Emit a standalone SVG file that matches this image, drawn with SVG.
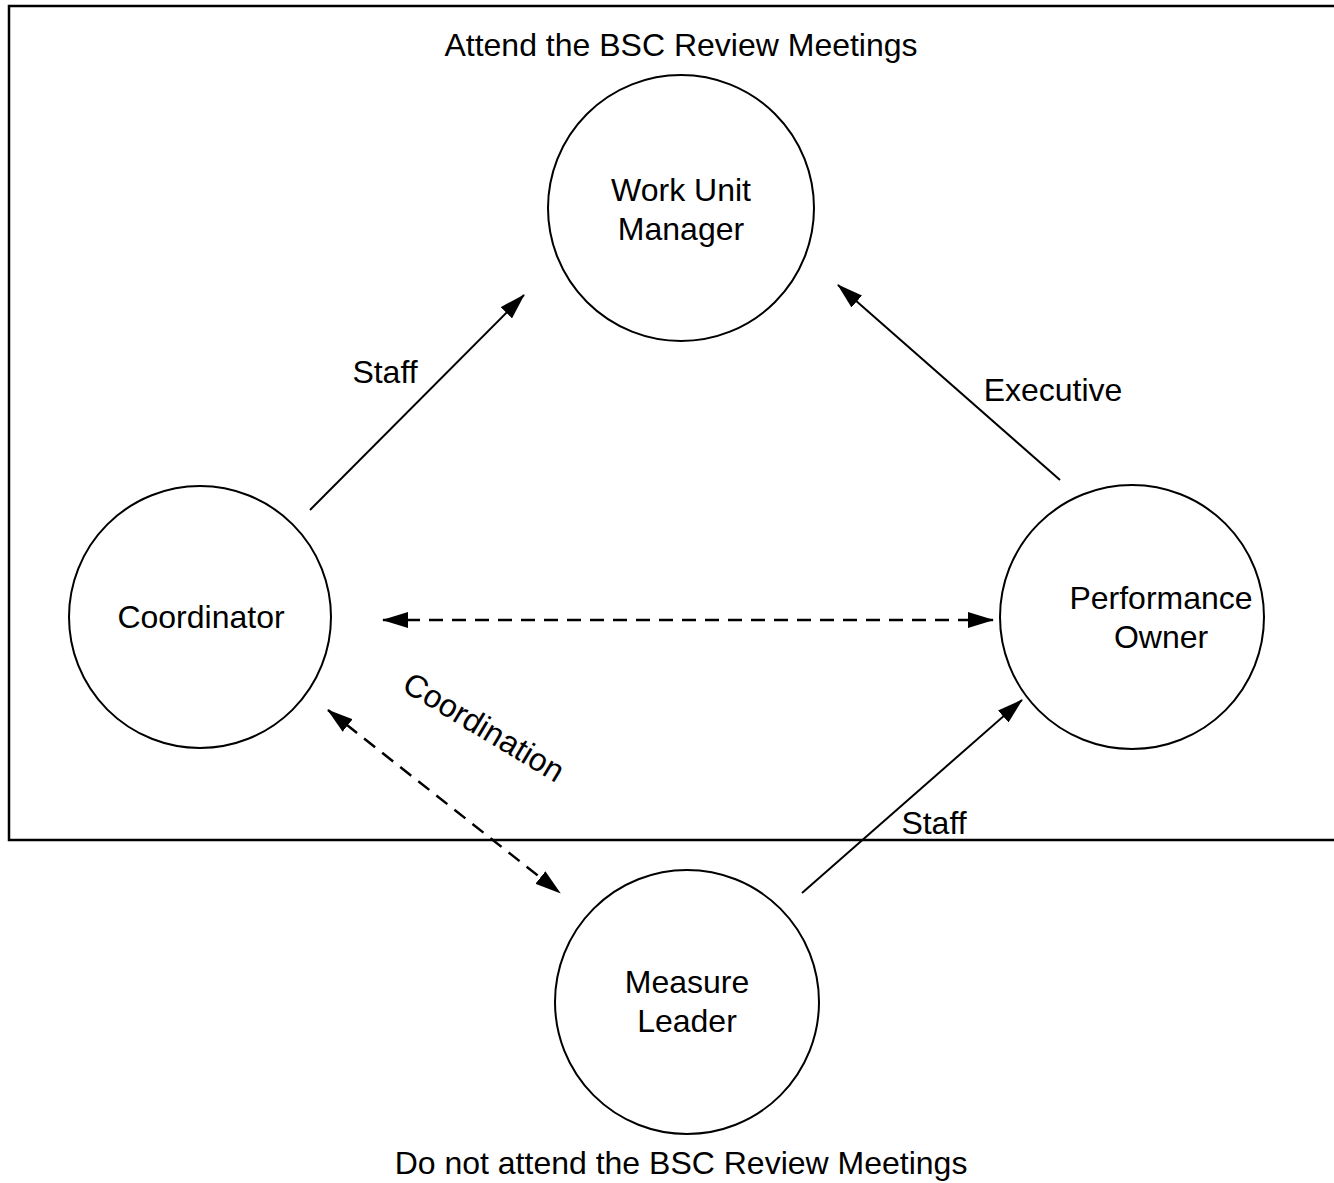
<svg xmlns="http://www.w3.org/2000/svg" width="1334" height="1183" viewBox="0 0 1334 1183">
<style>
text{font-family:"Liberation Sans",Arial,sans-serif;font-size:32px;fill:#000;text-anchor:middle}
.node{fill:#fff;stroke:#000;stroke-width:2}
.c{stroke:#000;stroke-width:2;fill:none}
.d{stroke-width:2.5;stroke-dasharray:14 9}
</style>
<defs>
<marker id="ah" viewBox="0 0 26 16" refX="25" refY="8" markerWidth="26" markerHeight="16" markerUnits="userSpaceOnUse" orient="auto-start-reverse">
<path d="M0,0 L26,8 L0,16 Z" fill="#000"/>
</marker>
</defs>
<rect x="9" y="6" width="1340" height="834" fill="none" stroke="#000" stroke-width="2.5"/>
<text x="681" y="56">Attend the BSC Review Meetings</text>
<text x="681" y="1174">Do not attend the BSC Review Meetings</text>
<g id="connectors">
<line class="c" x1="310" y1="510" x2="524" y2="295" marker-end="url(#ah)"/>
<line class="c" x1="1060" y1="480" x2="838" y2="285" marker-end="url(#ah)"/>
<line class="c d" x1="383" y1="620" x2="993" y2="620" marker-start="url(#ah)" marker-end="url(#ah)"/>
<line class="c d" x1="328" y1="710" x2="560" y2="893" marker-start="url(#ah)" marker-end="url(#ah)"/>
<line class="c" x1="802" y1="893" x2="1022" y2="700" marker-end="url(#ah)"/>
<text x="385" y="383">Staff</text>
<text x="1053" y="401">Executive</text>
<text x="934" y="834">Staff</text>
<text transform="translate(484,727) rotate(31)" y="11">Coordination</text>
</g>
<g id="wum">
<circle class="node" cx="681" cy="208" r="133"/>
<text x="681" y="201">Work Unit</text>
<text x="681" y="240">Manager</text>
</g>
<g id="coordinator">
<circle class="node" cx="200" cy="617" r="131"/>
<text x="201" y="628">Coordinator</text>
</g>
<g id="po">
<circle class="node" cx="1132" cy="617" r="132"/>
<text x="1161" y="609">Performance</text>
<text x="1161" y="648">Owner</text>
</g>
<g id="ml">
<circle class="node" cx="687" cy="1002" r="132"/>
<text x="687" y="993">Measure</text>
<text x="687" y="1032">Leader</text>
</g>
</svg>
